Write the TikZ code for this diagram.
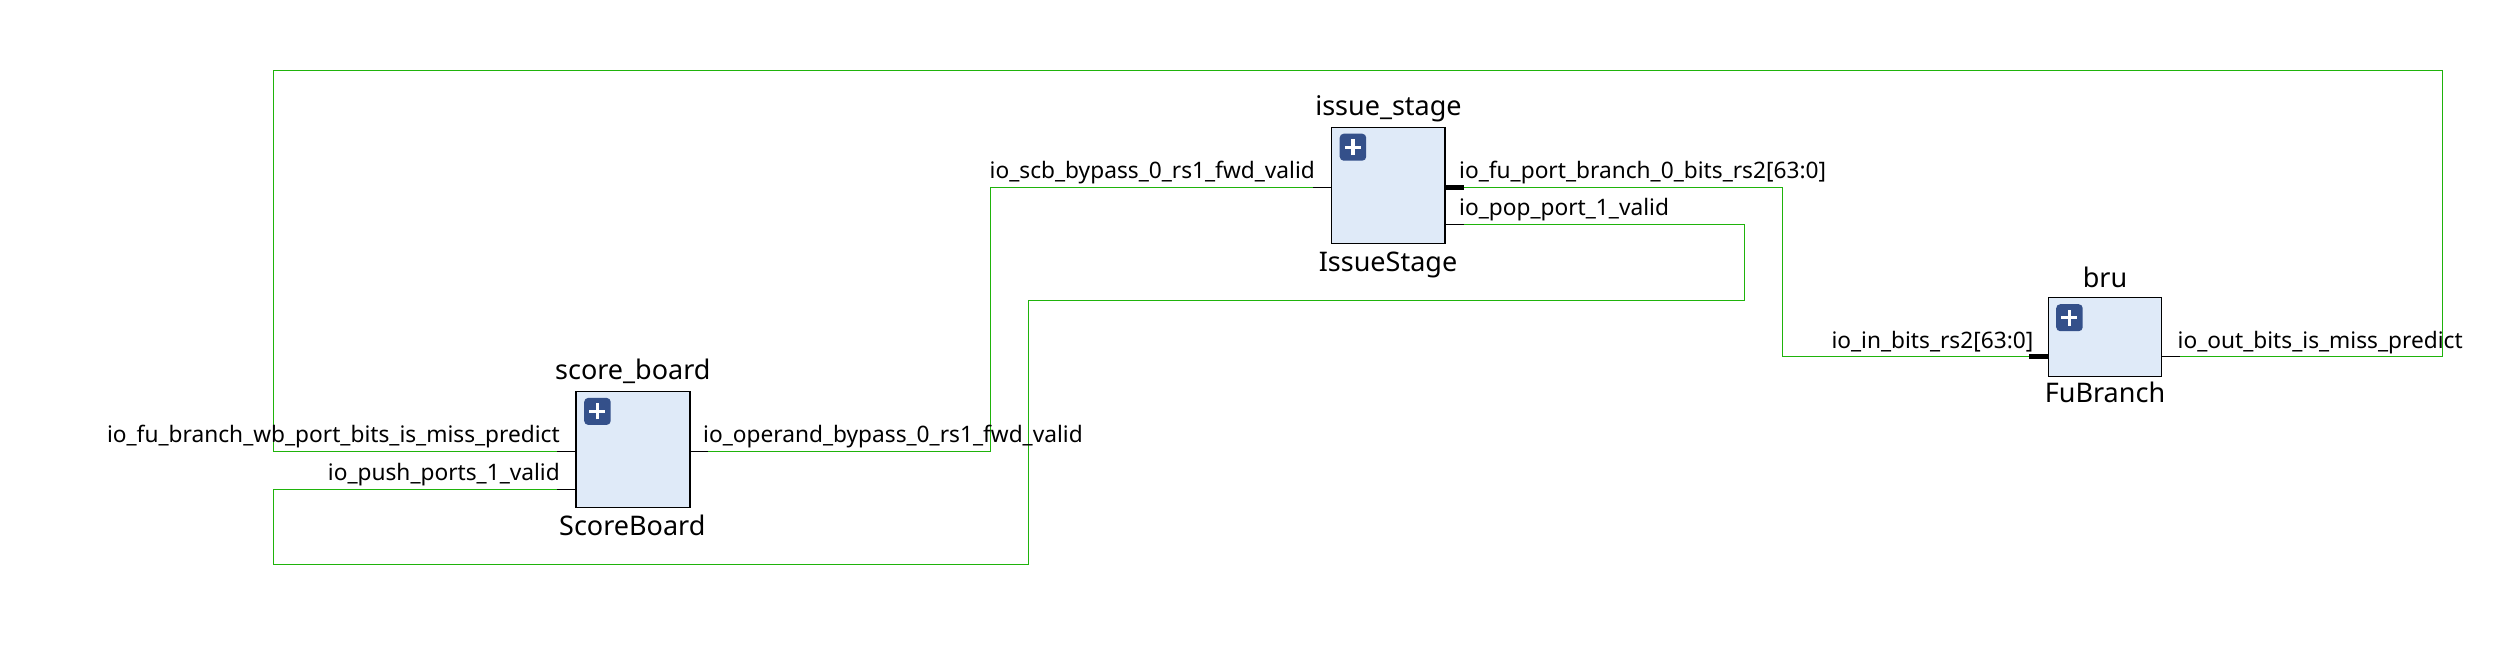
\documentclass[tikz,border=0pt]{standalone}
\usepackage{fontspec}
\setmainfont{Noto Sans}
\definecolor{wiregreen}{HTML}{1FB30B}
\definecolor{boxfill}{HTML}{DFEAF8}
\definecolor{iconblue}{HTML}{34508A}
\tikzset{
  ipblock/.style={draw=black,line width=1.5pt,fill=boxfill,anchor=north west,inner sep=0pt,outer sep=0pt},
  wire/.style={draw=wiregreen,line width=1.5pt,line join=miter},
  stub/.style={draw=black,line width=1.7pt},
  busstub/.style={draw=black,line width=4.5pt},
  portlabel/.style={font=\fontsize{22.7}{26}\selectfont,inner sep=0pt,text=black},
  titlelabel/.style={font=\fontsize{27}{32}\selectfont,inner sep=0pt,text=black,anchor=base},
  iconbox/.style={fill=iconblue,rounded corners=4pt,minimum width=26.5pt,minimum height=27pt,inner sep=0pt,anchor=north west}
}
\newcommand{\plusicon}[3]{%
  \node[iconbox] (#1) at (#2,#3) {};
  \draw[white,line width=3.2pt] ([xshift=-8pt]#1.center) -- ([xshift=8pt]#1.center);
  \draw[white,line width=3.2pt] ([yshift=-8pt]#1.center) -- ([yshift=8pt]#1.center);
}
\begin{document}
\begin{tikzpicture}[x=1pt,y=-1pt]
\useasboundingbox (0,0) rectangle (2500,653);
\coordinate (sbR) at (690,451.5);
\coordinate (sbRs) at (708,451.5);
\coordinate (isL) at (1331.5,187.5);
\coordinate (isLs) at (1313,187.5);
\coordinate (isR) at (1445,187.5);
\coordinate (isRs) at (1464,187.5);
\coordinate (isP) at (1445,224.5);
\coordinate (isPs) at (1464,224.5);
\coordinate (brL) at (2048.3,356.5);
\coordinate (brLs) at (2029,356.5);
\coordinate (brR) at (2161.7,356.5);
\coordinate (brRs) at (2180,356.5);
\coordinate (sbA) at (576,451.5);
\coordinate (sbAs) at (557,451.5);
\coordinate (sbB) at (576,489.5);
\coordinate (sbBs) at (557,489.5);

\draw[wire] (sbRs) -- (990.5,451.5) -- (990.5,187.5) -- (isLs);
\draw[wire] (isRs) -- (1782.5,187.5) -- (1782.5,356.5) -- (brLs);
\draw[wire] (isPs) -- (1744.5,224.5) -- (1744.5,300.5) -- (1028.5,300.5) -- (1028.5,564.5) -- (273.5,564.5) -- (273.5,489.5) -- (sbBs);
\draw[wire] (brRs) -- (2442.5,356.5) -- (2442.5,70.5) -- (273.5,70.5) -- (273.5,451.5) -- (sbAs);

\draw[stub] (sbR) -- (sbRs);
\draw[stub] (isL) -- (isLs);
\draw[busstub] (isR) -- (isRs);
\draw[stub] (isP) -- (isPs);
\draw[busstub] (brL) -- (brLs);
\draw[stub] (brR) -- (brRs);
\draw[stub] (sbA) -- (sbAs);
\draw[stub] (sbB) -- (sbBs);

\node[ipblock,minimum width=114pt,minimum height=115.6pt] (sb) at (576,391.7) {};
\node[ipblock,minimum width=113.5pt,minimum height=116pt] (is) at (1331.5,127.3) {};
\node[ipblock,minimum width=113.4pt,minimum height=79.4pt] (br) at (2048.3,297.3) {};

\plusicon{iconsb}{584}{397.7}
\plusicon{iconis}{1339.5}{133.5}
\plusicon{iconbr}{2056}{304}

\node[titlelabel] (tsb) at (632.8,379.5) {score\_board};
\node[titlelabel] (csb) at (632.3,535) {ScoreBoard};
\node[titlelabel] (tis) at (1388.5,115) {issue\_stage};
\node[titlelabel] (cis) at (1388,271.5) {IssueStage};
\node[titlelabel] (tbr) at (2105,287) {bru};
\node[titlelabel] (cbr) at (2105,402.5) {FuBranch};

\node[portlabel,anchor=base west] (l1) at (703,442.5) {io\_operand\_bypass\_0\_rs1\_fwd\_valid};
\node[portlabel,anchor=base east] (l2) at (560,442.5) {io\_fu\_branch\_wb\_port\_bits\_is\_miss\_predict};
\node[portlabel,anchor=base east] (l3) at (560,480.5) {io\_push\_ports\_1\_valid};
\node[portlabel,anchor=base east] (l4) at (1315,178.5) {io\_scb\_bypass\_0\_rs1\_fwd\_valid};
\node[portlabel,anchor=base west] (l5) at (1459,178.5) {io\_fu\_port\_branch\_0\_bits\_rs2[63:0]};
\node[portlabel,anchor=base west] (l6) at (1459,215.5) {io\_pop\_port\_1\_valid};
\node[portlabel,anchor=base east] (l7) at (2033.5,348) {io\_in\_bits\_rs2[63:0]};
\node[portlabel,anchor=base west] (l8) at (2177.5,348) {io\_out\_bits\_is\_miss\_predict};
\end{tikzpicture}
\end{document}
